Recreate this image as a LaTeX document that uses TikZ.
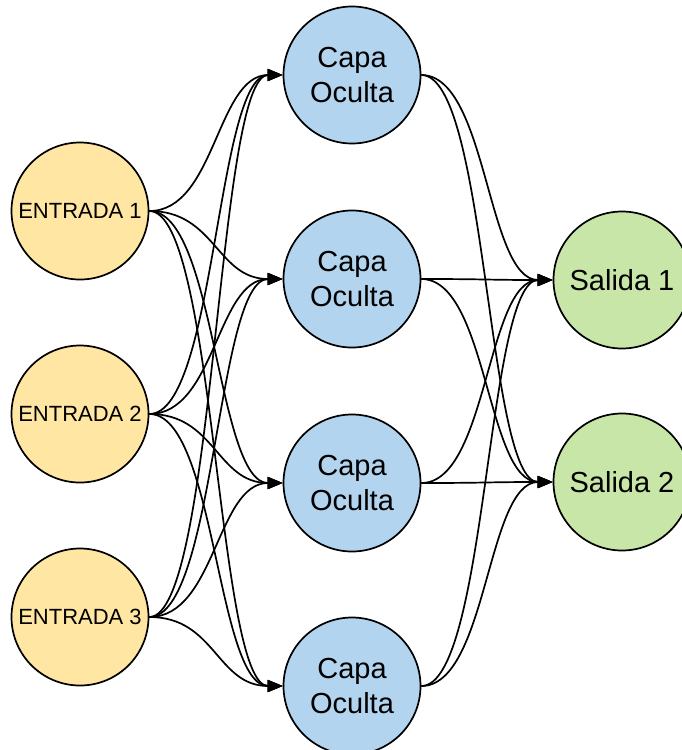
\documentclass[tikz,border=0pt]{standalone}
\usepackage{fontspec}
\setmainfont{Liberation Sans}
\usetikzlibrary{arrows.meta}
\definecolor{inyellow}{HTML}{FFE6A2}
\definecolor{hidblue}{HTML}{B3D4EE}
\definecolor{outgreen}{HTML}{C8E6A8}
\tikzset{
  neuron/.style={circle, draw=black, line width=1.7pt, inner sep=0pt,
    minimum size=137pt, align=center, text=black},
  inputn/.style={neuron, fill=inyellow, font=\fontsize{22}{26}\selectfont},
  hiddenn/.style={neuron, fill=hidblue, font=\fontsize{29}{35}\selectfont},
  outputn/.style={neuron, fill=outgreen, font=\fontsize{29}{35}\selectfont},
  link/.style={line width=1.7pt, -{Triangle[length=15pt,width=12pt]}}
}
\begin{document}
\begin{tikzpicture}[x=1pt,y=-1pt]
\useasboundingbox (0,0) rectangle (682,750);
\clip (0,0) rectangle (682,750);
% input layer
\node[inputn] (e1) at (80,211) {ENTRADA 1};
\node[inputn] (e2) at (80,414) {ENTRADA 2};
\node[inputn] (e3) at (80,617) {ENTRADA 3};
% hidden layer
\foreach \j/\y in {1/75,2/279,3/483,4/686}
  \node[hiddenn] (h\j) at (352,\y) {Capa\\Oculta};
% output layer
\node[outputn] (s1) at (622,280) {Salida 1};
\node[outputn] (s2) at (622,482) {Salida 2};
% connections
\foreach \i in {1,2,3}
  \foreach \j in {1,2,3,4}
    \draw[link] (e\i.east) .. controls +(66,0) and +(-66,0) .. (h\j.west);
\foreach \j in {1,2,3,4}
  \foreach \k in {1,2}
    \draw[link] (h\j.east) .. controls +(66,0) and +(-66,0) .. (s\k.west);
\end{tikzpicture}
\end{document}
